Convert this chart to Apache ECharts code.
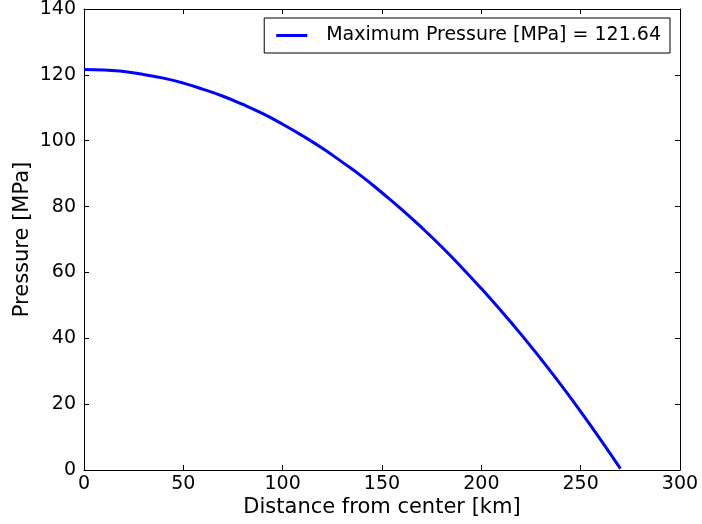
<!DOCTYPE html>
<html>
<head>
<meta charset="utf-8">
<script src="https://cdn.jsdelivr.net/npm/echarts@6/dist/echarts.min.js"></script>
<style>html,body{margin:0;padding:0;background:#fff}#c{width:702px;height:524px}</style>
</head>
<body>
<div id="c"></div>
<script>
const distanceKm = [0,10,20,30,40,50,60,70,80,90,100,110,120,130,140,150,160,170,180,190,200,210,220,230,240,250,260,270];
const pressureMPa = [121.6,121.5,121.0,120.1,119.0,117.5,115.6,113.5,111.0,108.2,105.0,101.5,97.7,93.5,89.1,84.2,79.1,73.6,67.8,61.6,55.1,48.3,41.2,33.7,25.9,17.7,9.2,0.4];
const seriesName = 'Maximum Pressure [MPa] = 121.64';
const xTicks = [0,50,100,150,200,250,300];
const yTicks = [0,20,40,60,80,100,120,140];

const font = 'DejaVu Sans';
const chart = echarts.init(document.getElementById('c'), null, {renderer:'canvas'});
const mkLine = () => ({show:true, onZero:false, lineStyle:{color:'#000', width:1}});
const mkTick = () => ({show:true, inside:true, length:5, lineStyle:{color:'#000', width:1}});
chart.setOption({
  animation:false,
  grid:{left:84, right:22, top:9, bottom:54, containLabel:false, outerBoundsMode:'none'},
  legend:{
    right:32, top:18, orient:'horizontal',
    borderColor:'#000', borderWidth:1, borderRadius:0,
    padding:[8,9,8,12],
    itemWidth:31, itemHeight:3, icon:'rect', itemGap:0,
    textStyle:{fontFamily:font, fontSize:19, color:'#000', padding:[0,0,0,14]},
    data:[seriesName]
  },
  xAxis:[{
    type:'value', min:0, max:300, interval:50, position:'bottom',
    axisLine:mkLine(), axisTick:mkTick(), splitLine:{show:false},
    axisLabel:{fontFamily:font, fontSize:19, color:'#000', margin:5},
    name:'Distance from center [km]', nameLocation:'middle', nameGap:27, nameMoveOverlap:false,
    nameTextStyle:{fontFamily:font, fontSize:21, color:'#000'}
  },{
    type:'value', min:0, max:300, interval:50, position:'top',
    axisLine:mkLine(), axisTick:mkTick(), splitLine:{show:false}, axisLabel:{show:false}
  }],
  yAxis:[{
    type:'value', min:0, max:140, interval:20, position:'left',
    axisLine:mkLine(), axisTick:mkTick(), splitLine:{show:false},
    axisLabel:{fontFamily:font, fontSize:19, color:'#000', margin:8},
    name:'Pressure [MPa]', nameLocation:'middle', nameGap:51, nameRotate:90, nameMoveOverlap:false,
    nameTextStyle:{fontFamily:font, fontSize:21, color:'#000'}
  },{
    type:'value', min:0, max:140, interval:20, position:'right',
    axisLine:mkLine(), axisTick:mkTick(), splitLine:{show:false}, axisLabel:{show:false}
  }],
  series:[{
    name:seriesName, type:'line', xAxisIndex:0, yAxisIndex:0,
    data: distanceKm.map((d,i)=>[d, pressureMPa[i]]),
    showSymbol:false, symbol:'none', smooth:true,
    lineStyle:{color:'#0000ff', width:3}, itemStyle:{color:'#0000ff'}
  }]
});
</script>
</body>
</html>
